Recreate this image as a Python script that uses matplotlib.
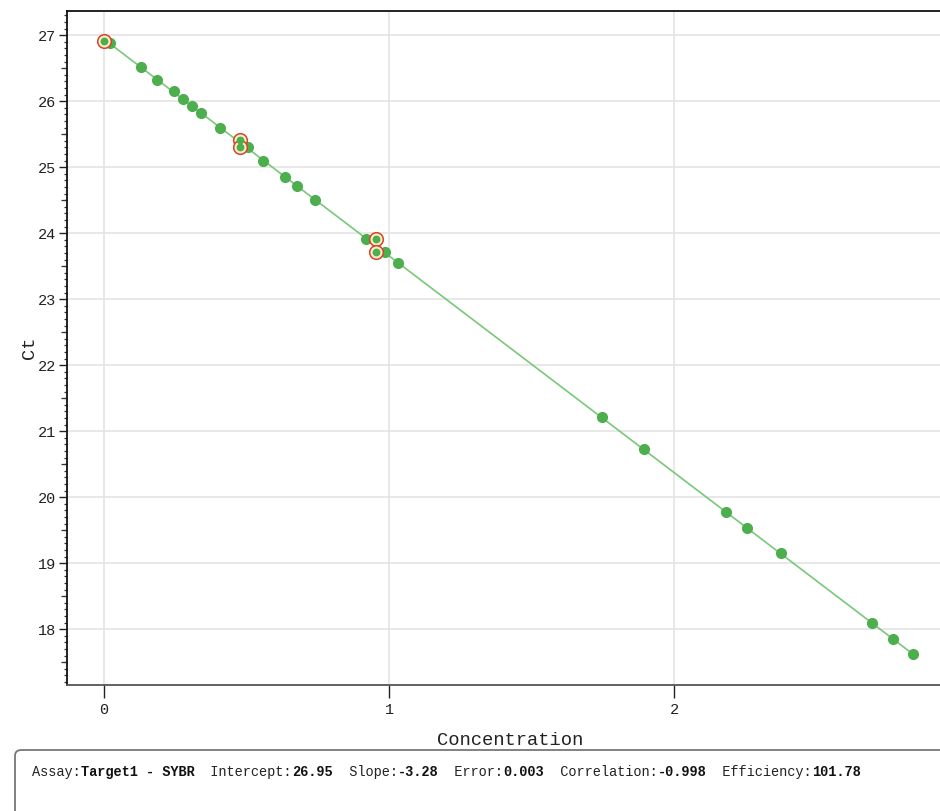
import numpy as np
import matplotlib
matplotlib.use("Agg")
import matplotlib.pyplot as plt
from matplotlib.patches import FancyBboxPatch
from matplotlib.ticker import MultipleLocator

# ---- data ----
conc = [0.000, 0.021, 0.129, 0.187, 0.244, 0.277, 0.309, 0.339, 0.407, 0.477,
        0.477, 0.506, 0.559, 0.636, 0.677, 0.739, 0.918, 0.954, 0.954, 0.985,
        1.033, 1.747, 1.893, 2.182, 2.257, 2.374, 2.693, 2.767, 2.840]
ct = [26.91, 26.88, 26.52, 26.33, 26.15, 26.03, 25.93, 25.83, 25.60, 25.42,
      25.30, 25.30, 25.10, 24.86, 24.72, 24.51, 23.92, 23.92, 23.71, 23.71,
      23.55, 21.21, 20.73, 19.78, 19.53, 19.15, 18.09, 17.85, 17.62]
selected = [0, 9, 10, 17, 18]
x_ticks = [0, 1, 2]
y_ticks = [18, 19, 20, 21, 22, 23, 24, 25, 26, 27]
info = [("Assay:", False), ("Target1 - SYBR", True),
        ("  Intercept:", False), ("26.95", True),
        ("  Slope:", False), ("-3.28", True),
        ("  Error:", False), ("0.003", True),
        ("  Correlation:", False), ("-0.998", True),
        ("  Efficiency:", False), ("101.78", True)]

FONT = "Liberation Mono"
W, H = 940, 811
fig = plt.figure(figsize=(W / 100, H / 100), dpi=100)
ax = fig.add_axes([67 / W, (H - 685) / H, (W - 67) / W, (685 - 11) / H])

ax.set_xlim(-0.130, 2.933)
ax.set_ylim(17.156, 27.368)

# grid
ax.set_xticks(x_ticks)
ax.set_yticks(y_ticks)
ax.grid(True, color="#e2e2e2", linewidth=1.1, zorder=0)
ax.set_axisbelow(True)

# fit line
xs = np.array(conc)
ys = np.array(ct)
slope, inter = np.polyfit(xs, ys, 1)
lx = np.array([xs.min(), xs.max()])
ax.plot(lx, inter + slope * lx, color="#78c878", linewidth=1.2, zorder=2)

# points
ax.plot(xs, ys, linestyle="none", marker="o", markersize=7.0,
        markerfacecolor="#4cae4c", markeredgecolor="#4cae4c", zorder=3)
sx = xs[selected]
sy = ys[selected]
ax.plot(sx, sy, linestyle="none", marker="o", markersize=9.8,
        markerfacecolor="#f3efc9", markeredgecolor="#d8432a",
        markeredgewidth=1.1, zorder=4)
ax.plot(sx, sy, linestyle="none", marker="o", markersize=4.6,
        markerfacecolor="#4cae4c", markeredgecolor="#4cae4c", zorder=5)

# spines
ax.spines["right"].set_visible(False)
for s in ("left", "top"):
    ax.spines[s].set_color("#111111")
    ax.spines[s].set_linewidth(1.3)
ax.spines["bottom"].set_color("#555555")
ax.spines["bottom"].set_linewidth(1.3)

# ticks
ax.yaxis.set_minor_locator(MultipleLocator(0.1))
ax.tick_params(axis="y", which="major", direction="out", length=6, width=1.0,
               color="#222222", pad=2, labelsize=11, labelcolor="#222222")
ax.tick_params(axis="y", which="minor", direction="out", length=2.2, width=0.9,
               color="#333333")
ax.tick_params(axis="x", which="major", direction="out", length=9, width=1.0,
               color="#222222", pad=4, labelsize=11, labelcolor="#222222")
for lab in ax.get_xticklabels() + ax.get_yticklabels():
    lab.set_family(FONT)

sec = ax.secondary_yaxis("left")
sec.set_yticks([17.5, 18.5, 19.5, 20.5, 21.5, 22.5, 23.5, 24.5, 25.5, 26.5])
sec.tick_params(length=4, width=0.9, color="#333333", labelleft=False)
sec.spines["left"].set_visible(False)

ax.set_xlabel("Concentration", family=FONT, fontsize=13.5, color="#222222")
ax.set_ylabel("Ct", family=FONT, fontsize=13.5, color="#222222")
ax.xaxis.set_label_coords((510 - 67) / (W - 67), -(732 - 685) / (685 - 11))
ax.yaxis.set_label_coords(-(67 - 38) / (W - 67), 0.5)

# info box
box = FancyBboxPatch((15 / W, -0.05), 1.0, (H - 750) / H + 0.05,
                     boxstyle="round,pad=0,rounding_size=0.007",
                     transform=fig.transFigure, facecolor="white",
                     edgecolor="#777777", linewidth=1.3, clip_on=False)
fig.patches.append(box)

prev = fig.text(32 / W, (H - 772) / H, info[0][0], family=FONT, fontsize=9.8,
                fontweight="bold" if info[0][1] else "normal",
                va="center", ha="left", color="#222222")
for txt, bold in info[1:]:
    prev = fig.add_artist(matplotlib.text.Annotation(
        txt, xy=(1, 0), xycoords=prev, va="bottom", ha="left",
        family=FONT, fontsize=9.8, fontweight="bold" if bold else "normal",
        color="#111111" if bold else "#222222", annotation_clip=False))

fig.savefig("out.png", dpi=100)
